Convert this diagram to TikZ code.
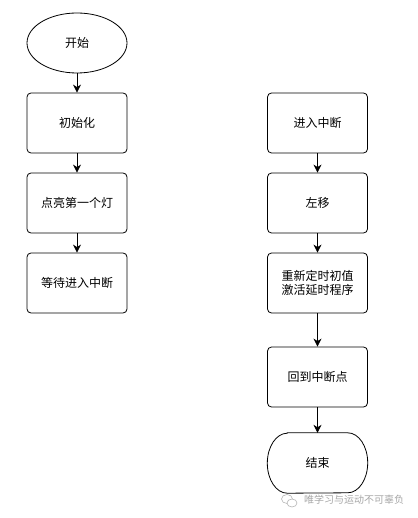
\documentclass[tikz,border=0pt]{standalone}
\usepackage{fontspec}
\setmainfont{Noto Sans CJK SC}
\usetikzlibrary{shapes.geometric,arrows.meta}
\begin{document}
\begin{tikzpicture}[x=1pt,y=-1pt,
  font=\fontsize{12pt}{14pt}\selectfont,
  procbox/.style={draw, line width=0.8pt, rounded corners=4pt, minimum width=100pt, minimum height=60pt, inner sep=0pt, align=center},
  startnode/.style={draw, line width=0.8pt, ellipse, minimum width=100pt, minimum height=60pt, inner sep=0pt},
  endnode/.style={minimum width=100pt, minimum height=60pt, inner sep=0pt},
  flow/.style={line width=0.8pt, -{Stealth[length=8pt,width=8pt,inset=2.5pt]}}]
\useasboundingbox (0,0) rectangle (417,518);
\node[startnode] (start) at (77,43) {开始};
\node[procbox] (init) at (77,123) {初始化};
\node[procbox] (light) at (77,203) {点亮第一个灯};
\node[procbox] (wait) at (77,283) {等待进入中断};
\node[procbox] (enter) at (317.5,123) {进入中断};
\node[procbox] (shift) at (317.5,203) {左移};
\node[procbox] (reset) at (317.5,283) {重新定时初值\\激活延时程序};
\node[procbox] (back) at (317.5,377) {回到中断点};
\node[endnode] (end) at (317.5,463) {结束};
\draw[line width=0.8pt] ([xshift=20pt]end.north west) -- ([xshift=-20pt]end.north east)
  arc[start angle=90, end angle=-90, x radius=20pt, y radius=30pt]
  -- ([xshift=20pt]end.south west)
  arc[start angle=270, end angle=90, x radius=20pt, y radius=30pt] -- cycle;
\draw[flow] (start) -- (init);
\draw[flow] (init) -- (light);
\draw[flow] (light) -- (wait);
\draw[flow] (enter) -- (shift);
\draw[flow] (shift) -- (reset);
\draw[flow] (reset) -- (back);
\draw[flow] (back) -- (end.north);
\node[text=black!35, font=\fontsize{10pt}{12pt}\selectfont, anchor=west, inner sep=0pt] (wm) at (304,500) {唯学习与运动不可辜负};
\draw[black!30, line width=0.6pt] (287,499) ellipse[x radius=5.5pt, y radius=4.5pt];
\draw[black!30, line width=0.6pt, fill=white] (292,503) ellipse[x radius=5pt, y radius=4pt];
\end{tikzpicture}
\end{document}
